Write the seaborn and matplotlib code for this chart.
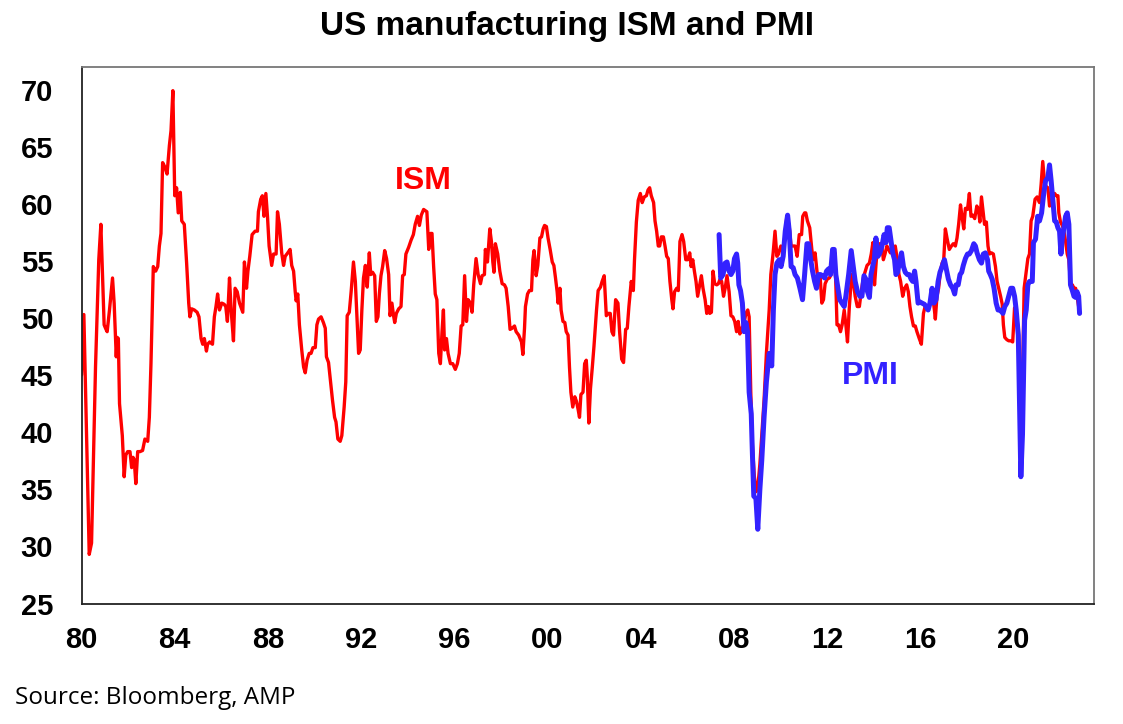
import matplotlib
matplotlib.use("Agg")
import matplotlib.pyplot as plt
import seaborn as sns
import pandas as pd

# ---------------- data ----------------
ism_year = [1980.00, 1980.10, 1980.33, 1980.43, 1980.60, 1980.74, 1980.83, 1980.97, 1981.03, 1981.10,
            1981.20, 1981.33, 1981.40, 1981.49, 1981.53, 1981.58, 1981.63, 1981.75, 1981.83, 1981.90,
            1981.98, 1982.08, 1982.15, 1982.21, 1982.26, 1982.33, 1982.41, 1982.51, 1982.62, 1982.72,
            1982.84, 1982.91, 1982.98, 1983.08, 1983.18, 1983.27, 1983.34, 1983.41, 1983.48, 1983.58,
            1983.67, 1983.77, 1983.84, 1983.92, 1984.00, 1984.08, 1984.15, 1984.24, 1984.30, 1984.41,
            1984.51, 1984.60, 1984.65, 1984.73, 1984.84, 1984.96, 1985.04, 1985.13, 1985.20, 1985.27,
            1985.36, 1985.41, 1985.50, 1985.62, 1985.70, 1985.77, 1985.84, 1985.92, 1986.02, 1986.12,
            1986.19, 1986.26, 1986.35, 1986.42, 1986.52, 1986.59, 1986.68, 1986.78, 1986.92, 1986.99,
            1987.08, 1987.14, 1987.22, 1987.32, 1987.45, 1987.55, 1987.59, 1987.69, 1987.76, 1987.83,
            1987.91, 1987.98, 1988.05, 1988.16, 1988.24, 1988.35, 1988.41, 1988.49, 1988.59, 1988.67,
            1988.74, 1988.85, 1988.95, 1989.02, 1989.10, 1989.17, 1989.21, 1989.28, 1989.35, 1989.45,
            1989.53, 1989.60, 1989.68, 1989.77, 1989.85, 1989.93, 1990.03, 1990.10, 1990.17, 1990.28,
            1990.38, 1990.46, 1990.51, 1990.60, 1990.69, 1990.77, 1990.86, 1990.92, 1991.00, 1991.10,
            1991.17, 1991.27, 1991.34, 1991.40, 1991.49, 1991.57, 1991.67, 1991.75, 1991.82, 1991.89,
            1991.96, 1992.03, 1992.10, 1992.18, 1992.26, 1992.35, 1992.41, 1992.49, 1992.58, 1992.65,
            1992.72, 1992.78, 1992.85, 1992.92, 1993.01, 1993.09, 1993.18, 1993.24, 1993.32, 1993.39,
            1993.44, 1993.51, 1993.61, 1993.71, 1993.78, 1993.85, 1993.92, 1994.04, 1994.14, 1994.24,
            1994.32, 1994.42, 1994.50, 1994.58, 1994.68, 1994.82, 1994.90, 1994.97, 1995.04, 1995.11,
            1995.18, 1995.25, 1995.33, 1995.40, 1995.47, 1995.53, 1995.58, 1995.66, 1995.73, 1995.83,
            1995.93, 1996.04, 1996.13, 1996.21, 1996.29, 1996.36, 1996.44, 1996.52, 1996.59, 1996.69,
            1996.76, 1996.83, 1996.93, 1997.02, 1997.12, 1997.19, 1997.29, 1997.33, 1997.42, 1997.52,
            1997.59, 1997.65, 1997.70, 1997.76, 1997.86, 1997.95, 1998.05, 1998.15, 1998.22, 1998.31,
            1998.39, 1998.48, 1998.58, 1998.65, 1998.76, 1998.88, 1998.94, 1999.01, 1999.05, 1999.14,
            1999.22, 1999.31, 1999.37, 1999.42, 1999.51, 1999.58, 1999.67, 1999.74, 1999.81, 1999.87,
            1999.95, 2000.02, 2000.11, 2000.20, 2000.27, 2000.34, 2000.41, 2000.45, 2000.53, 2000.58,
            2000.66, 2000.74, 2000.80, 2000.88, 2000.94, 2001.00, 2001.08, 2001.17, 2001.24, 2001.31,
            2001.37, 2001.43, 2001.52, 2001.59, 2001.66, 2001.70, 2001.77, 2001.84, 2001.92, 2001.99,
            2002.10, 2002.17, 2002.27, 2002.34, 2002.43, 2002.52, 2002.60, 2002.69, 2002.76, 2002.83,
            2002.92, 2003.02, 2003.09, 2003.18, 2003.26, 2003.35, 2003.42, 2003.49, 2003.59, 2003.68,
            2003.73, 2003.81, 2003.89, 2003.98, 2004.06, 2004.15, 2004.24, 2004.31, 2004.38, 2004.45,
            2004.55, 2004.61, 2004.68, 2004.75, 2004.81, 2004.88, 2004.97, 2005.04, 2005.11, 2005.18,
            2005.25, 2005.33, 2005.38, 2005.45, 2005.54, 2005.61, 2005.68, 2005.77, 2005.84, 2005.93,
            2006.01, 2006.10, 2006.16, 2006.23, 2006.30, 2006.37, 2006.44, 2006.53, 2006.60, 2006.67,
            2006.76, 2006.83, 2006.90, 2006.96, 2007.03, 2007.10, 2007.17, 2007.26, 2007.33, 2007.40,
            2007.47, 2007.55, 2007.62, 2007.70, 2007.79, 2007.87, 2007.95, 2008.03, 2008.11, 2008.18,
            2008.25, 2008.33, 2008.42, 2008.51, 2008.59, 2008.65, 2008.72, 2008.79, 2008.87, 2008.95,
            2009.04, 2009.11, 2009.19, 2009.29, 2009.39, 2009.51, 2009.58, 2009.68, 2009.76, 2009.84,
            2009.91, 2010.01, 2010.11, 2010.20, 2010.27, 2010.37, 2010.45, 2010.54, 2010.62, 2010.71,
            2010.80, 2010.90, 2010.95, 2011.03, 2011.08, 2011.15, 2011.25, 2011.34, 2011.40, 2011.48,
            2011.56, 2011.63, 2011.70, 2011.77, 2011.84, 2011.91, 2012.00, 2012.09, 2012.17, 2012.26,
            2012.33, 2012.42, 2012.49, 2012.57, 2012.64, 2012.73, 2012.80, 2012.87, 2012.95, 2013.05,
            2013.12, 2013.20, 2013.29, 2013.38, 2013.46, 2013.55, 2013.62, 2013.71, 2013.81, 2013.89,
            2013.96, 2014.03, 2014.11, 2014.18, 2014.25, 2014.33, 2014.41, 2014.48, 2014.56, 2014.64,
            2014.71, 2014.78, 2014.87, 2014.92, 2015.01, 2015.08, 2015.15, 2015.24, 2015.32, 2015.41,
            2015.48, 2015.55, 2015.62, 2015.70, 2015.78, 2015.85, 2015.95, 2016.04, 2016.13, 2016.20,
            2016.31, 2016.41, 2016.50, 2016.60, 2016.64, 2016.71, 2016.78, 2016.86, 2016.93, 2017.00,
            2017.07, 2017.14, 2017.24, 2017.33, 2017.41, 2017.50, 2017.57, 2017.64, 2017.72, 2017.79,
            2017.86, 2017.93, 2018.02, 2018.10, 2018.17, 2018.25, 2018.33, 2018.42, 2018.49, 2018.55,
            2018.62, 2018.68, 2018.75, 2018.83, 2018.90, 2018.96, 2019.05, 2019.13, 2019.22, 2019.29,
            2019.36, 2019.44, 2019.51, 2019.56, 2019.62, 2019.71, 2019.79, 2019.88, 2019.96, 2020.04,
            2020.12, 2020.20, 2020.29, 2020.37, 2020.45, 2020.54, 2020.61, 2020.68, 2020.75, 2020.82,
            2020.92, 2021.01, 2021.11, 2021.18, 2021.25, 2021.33, 2021.40, 2021.47, 2021.54, 2021.61,
            2021.68, 2021.76, 2021.83, 2021.90, 2021.94, 2022.01, 2022.09, 2022.16, 2022.23, 2022.30,
            2022.37, 2022.44, 2022.52, 2022.59, 2022.66, 2022.72, 2022.79, 2022.83]
ism_value = [45.0, 50.3, 29.3, 30.3, 45.7, 55.1, 58.2, 49.4, 49.1, 48.8,
             50.7, 53.5, 51.3, 46.6, 48.3, 48.2, 42.5, 39.7, 36.1, 38.0,
             38.3, 38.3, 36.9, 37.8, 37.6, 35.5, 38.3, 38.3, 38.4, 39.4,
             39.2, 41.3, 46.0, 54.5, 54.1, 54.5, 56.3, 57.4, 63.6, 63.2,
             62.6, 65.1, 66.4, 69.9, 60.7, 61.4, 59.2, 61.0, 58.5, 58.2,
             54.8, 51.3, 50.1, 50.8, 50.7, 50.5, 50.1, 48.2, 47.7, 48.2,
             47.1, 47.7, 47.9, 47.7, 50.1, 51.0, 52.1, 50.7, 51.3, 51.2,
             51.0, 49.7, 53.5, 50.7, 48.0, 52.6, 52.3, 51.3, 50.5, 54.9,
             52.6, 54.1, 55.4, 57.3, 57.6, 57.6, 59.3, 60.4, 60.7, 58.9,
             60.9, 58.9, 56.3, 54.6, 55.6, 55.6, 59.3, 58.2, 55.7, 54.6,
             55.4, 55.7, 56.0, 54.6, 54.1, 52.3, 51.5, 52.1, 49.4, 47.2,
             45.7, 45.2, 46.3, 46.9, 46.9, 47.4, 47.4, 49.4, 49.9, 50.1,
             49.6, 49.1, 46.6, 46.1, 44.4, 42.8, 41.3, 40.9, 39.4, 39.2,
             39.7, 42.2, 44.4, 50.2, 50.5, 52.3, 54.9, 53.2, 50.1, 46.9,
             47.2, 50.7, 53.5, 54.6, 52.7, 55.7, 53.8, 54.0, 53.7, 49.7,
             50.1, 52.1, 53.7, 54.5, 55.9, 55.2, 53.8, 50.2, 51.3, 50.2,
             49.6, 50.4, 50.8, 51.0, 53.7, 53.8, 55.6, 56.2, 56.8, 57.3,
             58.2, 58.9, 58.1, 59.0, 59.5, 59.3, 56.0, 57.4, 57.4, 54.5,
             52.1, 51.6, 46.9, 46.0, 48.8, 50.7, 47.2, 48.2, 46.9, 46.0,
             46.0, 45.5, 46.0, 46.9, 49.3, 49.4, 53.7, 49.7, 51.6, 51.3,
             50.5, 52.9, 55.2, 53.8, 53.0, 53.7, 53.8, 56.0, 54.9, 57.8,
             56.7, 54.9, 54.0, 56.5, 55.6, 54.1, 53.0, 52.9, 52.6, 51.0,
             49.0, 49.1, 49.3, 48.8, 48.5, 47.9, 46.8, 49.1, 51.0, 52.1,
             52.4, 52.4, 55.1, 55.9, 53.7, 54.6, 57.0, 57.1, 57.8, 58.1,
             58.0, 57.0, 56.0, 54.9, 54.6, 53.5, 52.3, 51.3, 52.6, 50.7,
             49.7, 49.6, 48.8, 48.5, 45.7, 43.5, 42.2, 43.1, 42.7, 42.0,
             41.3, 43.3, 43.5, 46.0, 46.3, 45.0, 40.8, 43.8, 45.7, 47.5,
             50.7, 52.4, 52.7, 53.2, 53.7, 50.2, 50.4, 50.4, 48.8, 48.5,
             51.6, 51.3, 48.8, 46.4, 46.1, 49.0, 49.1, 51.0, 53.2, 52.4,
             55.1, 58.4, 60.3, 60.9, 60.1, 60.6, 60.7, 61.2, 61.4, 60.7,
             60.1, 58.5, 57.6, 56.3, 56.3, 57.1, 57.1, 56.3, 55.4, 55.2,
             53.2, 51.6, 50.8, 52.3, 52.6, 52.4, 56.7, 57.3, 56.7, 55.1,
             55.1, 55.7, 54.5, 55.1, 54.1, 53.2, 51.9, 52.9, 53.7, 52.6,
             51.6, 50.4, 51.0, 50.4, 50.5, 54.1, 53.0, 52.9, 53.0, 53.4,
             53.2, 51.9, 52.6, 53.7, 52.3, 50.2, 50.1, 49.7, 48.8, 49.7,
             48.6, 49.1, 49.4, 50.4, 50.7, 50.1, 43.5, 38.9, 36.2, 34.8,
             35.6, 37.2, 39.7, 42.8, 46.9, 50.7, 53.8, 55.7, 57.6, 55.4,
             55.6, 56.3, 55.7, 57.6, 58.9, 58.0, 56.3, 56.3, 56.3, 55.4,
             57.3, 57.3, 58.9, 59.2, 59.2, 58.5, 57.9, 56.0, 55.1, 55.7,
             54.1, 53.2, 53.5, 51.3, 51.6, 53.0, 53.4, 53.5, 53.8, 54.8,
             55.7, 49.4, 49.4, 48.8, 49.4, 50.7, 49.4, 47.9, 51.0, 53.8,
             53.2, 51.9, 51.0, 51.0, 52.3, 53.5, 54.0, 54.6, 54.8, 55.6,
             56.6, 52.9, 55.1, 55.7, 56.5, 56.5, 55.1, 55.6, 56.3, 56.0,
             55.7, 56.3, 55.9, 56.3, 55.1, 53.8, 53.2, 51.9, 52.6, 52.9,
             52.3, 51.0, 50.1, 49.3, 49.3, 48.8, 48.2, 47.7, 50.4, 51.0,
             50.7, 51.3, 52.3, 50.7, 49.9, 51.9, 52.6, 54.1, 54.8, 55.1,
             57.8, 57.0, 56.0, 56.3, 56.5, 56.3, 57.0, 58.2, 59.9, 58.8,
             57.8, 59.6, 59.5, 60.9, 58.9, 59.0, 58.7, 59.8, 59.5, 58.4,
             60.6, 59.5, 58.2, 58.4, 56.3, 55.6, 55.7, 55.6, 54.5, 53.2,
             52.6, 51.9, 51.2, 49.4, 48.3, 48.1, 48.0, 48.0, 47.9, 50.9,
             50.1, 49.1, 41.5, 43.1, 52.6, 54.1, 55.2, 55.6, 58.5, 58.9,
             60.4, 60.6, 60.1, 61.7, 63.7, 61.8, 61.5, 61.4, 59.8, 59.9,
             60.7, 60.9, 60.7, 60.7, 59.2, 58.4, 58.1, 57.6, 56.7, 55.6,
             55.1, 53.0, 52.9, 52.6, 52.6, 51.9, 51.0, 50.4]

pmi_year = [2007.36, 2007.43, 2007.53, 2007.62, 2007.70, 2007.79, 2007.87, 2007.95, 2008.02, 2008.11,
            2008.16, 2008.21, 2008.28, 2008.36, 2008.43, 2008.51, 2008.58, 2008.65, 2008.74, 2008.79,
            2008.85, 2008.94, 2009.02, 2009.11, 2009.19, 2009.29, 2009.39, 2009.51, 2009.62, 2009.69,
            2009.76, 2009.84, 2009.94, 2010.02, 2010.11, 2010.20, 2010.30, 2010.37, 2010.45, 2010.54,
            2010.62, 2010.72, 2010.83, 2010.94, 2011.03, 2011.13, 2011.20, 2011.27, 2011.37, 2011.46,
            2011.54, 2011.63, 2011.71, 2011.80, 2011.89, 2011.97, 2012.06, 2012.14, 2012.23, 2012.30,
            2012.37, 2012.46, 2012.54, 2012.63, 2012.73, 2012.80, 2012.92, 2013.03, 2013.12, 2013.20,
            2013.30, 2013.40, 2013.49, 2013.58, 2013.66, 2013.73, 2013.81, 2013.88, 2013.95, 2014.02,
            2014.09, 2014.18, 2014.26, 2014.35, 2014.44, 2014.52, 2014.58, 2014.66, 2014.72, 2014.81,
            2014.89, 2014.95, 2015.02, 2015.12, 2015.19, 2015.27, 2015.35, 2015.44, 2015.52, 2015.60,
            2015.67, 2015.75, 2015.81, 2015.90, 2015.98, 2016.07, 2016.17, 2016.24, 2016.33, 2016.41,
            2016.50, 2016.58, 2016.67, 2016.76, 2016.84, 2016.93, 2017.03, 2017.13, 2017.20, 2017.29,
            2017.39, 2017.47, 2017.53, 2017.62, 2017.70, 2017.77, 2017.84, 2017.93, 2018.02, 2018.10,
            2018.19, 2018.29, 2018.36, 2018.43, 2018.53, 2018.62, 2018.70, 2018.79, 2018.88, 2018.93,
            2019.00, 2019.08, 2019.16, 2019.25, 2019.33, 2019.42, 2019.54, 2019.62, 2019.71, 2019.79,
            2019.88, 2019.96, 2020.04, 2020.11, 2020.20, 2020.31, 2020.38, 2020.47, 2020.54, 2020.61,
            2020.68, 2020.80, 2020.85, 2020.94, 2021.03, 2021.11, 2021.20, 2021.28, 2021.37, 2021.47,
            2021.54, 2021.61, 2021.68, 2021.76, 2021.83, 2021.90, 2021.97, 2022.03, 2022.09, 2022.16,
            2022.23, 2022.30, 2022.37, 2022.44, 2022.52, 2022.59, 2022.66, 2022.72, 2022.79, 2022.83]
pmi_value = [57.3, 53.5, 53.8, 54.8, 54.9, 54.1, 53.8, 54.1, 55.2, 55.6,
             54.8, 52.9, 52.4, 51.3, 48.8, 49.6, 48.8, 43.5, 41.6, 38.1,
             34.4, 34.2, 31.5, 35.0, 37.5, 41.3, 44.4, 46.9, 45.8, 50.7,
             53.8, 54.8, 55.1, 54.5, 55.4, 57.6, 59.0, 57.6, 54.5, 54.4,
             53.8, 53.5, 52.6, 51.6, 53.8, 56.5, 56.5, 55.4, 54.1, 53.2,
             52.6, 53.8, 53.8, 53.7, 53.5, 54.1, 54.3, 53.8, 56.0, 56.0,
             53.8, 52.6, 51.6, 51.3, 51.0, 51.9, 53.8, 55.9, 54.5, 53.2,
             52.3, 51.9, 51.9, 53.7, 53.4, 52.3, 51.8, 53.8, 54.5, 55.1,
             57.0, 55.4, 55.7, 56.3, 57.3, 56.6, 57.9, 57.9, 57.0, 55.7,
             55.1, 53.8, 54.0, 55.1, 55.7, 54.5, 54.0, 53.8, 53.8, 53.4,
             53.2, 54.1, 53.2, 51.3, 51.4, 51.3, 51.2, 51.0, 50.7, 51.3,
             52.6, 51.3, 51.6, 53.2, 54.0, 54.5, 55.1, 54.1, 53.4, 52.9,
             52.6, 52.1, 52.9, 52.9, 53.8, 54.0, 54.6, 55.2, 55.6, 55.6,
             55.9, 56.5, 56.3, 55.7, 55.1, 54.8, 55.6, 55.7, 55.1, 54.1,
             53.8, 53.4, 52.6, 51.3, 50.7, 50.7, 50.4, 51.0, 51.3, 51.9,
             52.6, 52.6, 51.9, 50.7, 48.5, 36.1, 39.8, 49.8, 50.7, 52.9,
             53.2, 53.2, 56.6, 56.9, 58.9, 58.5, 59.2, 60.7, 62.0, 62.3,
             63.4, 62.0, 60.4, 58.5, 58.4, 57.9, 57.6, 55.6, 57.0, 57.9,
             58.9, 59.2, 58.2, 52.9, 52.4, 51.9, 51.8, 52.3, 51.9, 50.4]

year_ticks = [1980, 1984, 1988, 1992, 1996, 2000, 2004, 2008, 2012, 2016, 2020]
year_labels = ["80", "84", "88", "92", "96", "00", "04", "08", "12", "16", "20"]
value_ticks = [25, 30, 35, 40, 45, 50, 55, 60, 65, 70]

ism_df = pd.DataFrame({"year": ism_year, "value": ism_value})
pmi_df = pd.DataFrame({"year": pmi_year, "value": pmi_value})

# ---------------- figure ----------------
sns.set_theme(style="white")
plt.rcParams["font.family"] = ["Liberation Sans", "DejaVu Sans"]

RED = "#FF0000"
BLUE = "#3322FF"

fig = plt.figure(figsize=(11.23, 7.24), dpi=100)
ax = fig.add_axes([0.0726, 0.1664, 0.9016, 0.7415])

sns.lineplot(data=ism_df, x="year", y="value", ax=ax, color=RED, linewidth=2.4,
             estimator=None, sort=False, legend=False)
sns.lineplot(data=pmi_df, x="year", y="value", ax=ax, color=BLUE, linewidth=3.6,
             estimator=None, sort=False, legend=False)

ax.set_xlim(1980, 2023.45)
ax.set_ylim(25, 72)
ax.set_xticks(year_ticks)
ax.set_xticklabels(year_labels)
ax.set_yticks(value_ticks)
ax.set_xlabel("")
ax.set_ylabel("")

ax.tick_params(axis="x", which="major", direction="out", length=6, width=1.2,
               colors="#555555", labelcolor="black", labelsize=21, pad=10)
ax.tick_params(axis="y", which="major", direction="out", length=7.5, width=1.2,
               colors="#555555", labelcolor="black", labelsize=21, pad=13)
for lbl in ax.get_xticklabels() + ax.get_yticklabels():
    lbl.set_fontweight("bold")

for side in ["left", "bottom"]:
    ax.spines[side].set_color("#222222")
    ax.spines[side].set_linewidth(1.3)
for side in ["top", "right"]:
    ax.spines[side].set_visible(True)
    ax.spines[side].set_color("#777777")
    ax.spines[side].set_linewidth(1.3)

ax.text(1993.45, 62.0, "ISM", color=RED, fontsize=23, fontweight="bold",
        ha="left", va="center")
ax.text(2012.64, 44.9, "PMI", color=BLUE, fontsize=23, fontweight="bold",
        ha="left", va="center")

fig.text(0.505, 0.963, "US manufacturing ISM and PMI", ha="center", va="center",
         fontsize=24, fontweight="bold", color="black")
fig.text(0.013, 0.036, "Source: Bloomberg, AMP", ha="left", va="center",
         fontsize=17.5, color="black", family=["Open Sans", "DejaVu Sans"])

fig.savefig("out.png", dpi=100)
